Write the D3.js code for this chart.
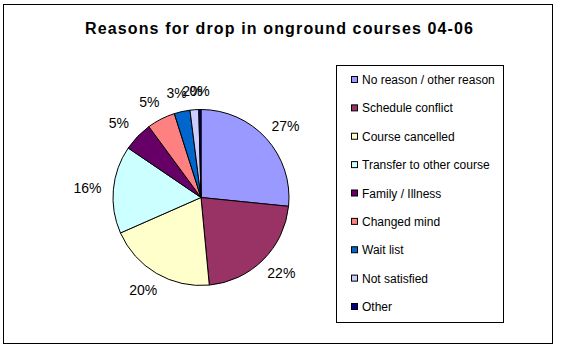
<!doctype html>
<html lang="en">
<head>
  <style>
    body { margin: 0; background: #fff; }
    svg text { font-family: Arial, "Liberation Sans", sans-serif; }
  </style>
  <script src="https://d3js.org/d3.v7.min.js"></script>
</head>
<body>
  <script>
    const categories = [
      "No reason / other reason",
      "Schedule conflict",
      "Course cancelled",
      "Transfer to other course",
      "Family / Illness",
      "Changed mind",
      "Wait list",
      "Not satisfied",
      "Other"
    ];
    const percents = [26.6, 21.9, 19.9, 16.1, 5.4, 5.2, 2.9, 1.6, 0.4];
    const colors = ["#9999FF", "#993366", "#FFFFCC", "#CCFFFF", "#660066", "#FF8080", "#0066CC", "#CCCCFF", "#000080"];
    const title = "Reasons for drop in onground courses 04-06";

    const width = 563, height = 352;
    const cx = 201, cy = 197.5, radius = 88;

    const svg = d3.select("body")
      .append("svg")
      .attr("width", width)
      .attr("height", height);

    // outer chart frame
    svg.append("rect")
      .attr("x", 3.5).attr("y", 4.5)
      .attr("width", 549).attr("height", 339)
      .attr("fill", "#fff")
      .attr("stroke", "#000");

    svg.append("text")
      .attr("x", 85)
      .attr("y", 33.5)
      .attr("textLength", 388)
      .attr("lengthAdjust", "spacing")
      .style("font-size", "16px")
      .style("font-weight", "bold")
      .text(title);

    const data = categories.map((c, i) => ({ name: c, value: percents[i], color: colors[i] }));

    const pie = d3.pie().sort(null).value(d => d.value);
    const arc = d3.arc().innerRadius(0).outerRadius(radius);
    const arcs = pie(data);

    const g = svg.append("g").attr("transform", `translate(${cx},${cy})`);

    g.selectAll("path")
      .data(arcs)
      .join("path")
      .attr("d", arc)
      .attr("fill", d => d.data.color)
      .attr("stroke", "#000")
      .attr("stroke-width", 1);

    // labels just outside the pie
    const labelR = 100;
    const fmt = d3.format(".0f");
    g.selectAll("text.pct")
      .data(arcs)
      .join("text")
      .attr("class", "pct")
      .attr("x", d => {
        const a = (d.startAngle + d.endAngle) / 2;
        return (labelR + 14) * Math.sin(a);
      })
      .attr("y", d => {
        const a = (d.startAngle + d.endAngle) / 2;
        return -(labelR + 7) * Math.cos(a);
      })
      .attr("text-anchor", "middle")
      .attr("dominant-baseline", "central")
      .style("font-size", "14px")
      .text(d => fmt(d.data.value) + "%");

    // legend
    const legend = svg.append("g");
    legend.append("rect")
      .attr("x", 336.5).attr("y", 65.5)
      .attr("width", 167).attr("height", 257)
      .attr("fill", "#fff")
      .attr("stroke", "#000");

    const ly = d3.scalePoint()
      .domain(categories)
      .range([80, 307]);

    const items = legend.selectAll("g.item")
      .data(data)
      .join("g")
      .attr("class", "item")
      .attr("transform", d => `translate(351,${ly(d.name)})`);

    items.append("rect")
      .attr("x", 0.5).attr("y", -3.5)
      .attr("width", 6).attr("height", 6)
      .attr("fill", d => d.color)
      .attr("stroke", "#000");

    items.append("text")
      .attr("x", 11)
      .attr("y", 0)
      .attr("dominant-baseline", "central")
      .style("font-size", "12px")
      .text(d => d.name);
  </script>
</body>
</html>
